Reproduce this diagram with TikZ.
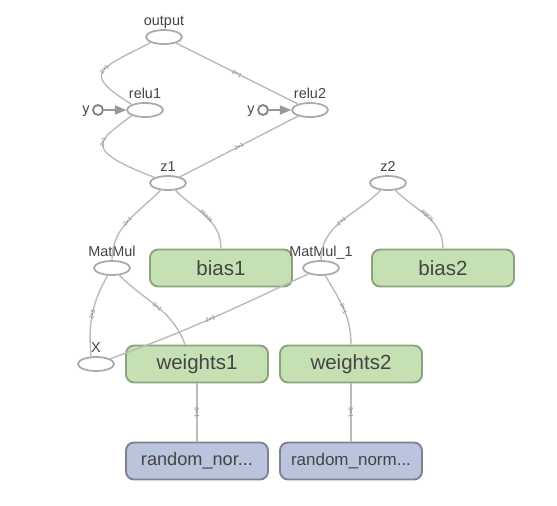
\documentclass[tikz,border=0pt]{standalone}
\usepackage{fontspec}
\setmainfont{Liberation Sans}
\usetikzlibrary{shapes.geometric, arrows}
\definecolor{opline}{HTML}{AAAAAA}
\definecolor{flowline}{HTML}{BBBBBB}
\definecolor{varfill}{HTML}{C5E0B3}
\definecolor{varline}{HTML}{8BA37C}
\definecolor{initfill}{HTML}{BAC4DD}
\definecolor{initline}{HTML}{7C8294}
\definecolor{txt}{HTML}{444444}
\tikzstyle{opnode} = [ellipse, minimum width=1.08cm, minimum height=0.42cm, inner sep=0pt, draw=opline, line width=1.5pt, fill=white, label distance=3pt]
\tikzstyle{opname} = [font=\fontsize{12.3}{12.3}\selectfont, text=txt, inner sep=1pt, text height=0.75em, text depth=0.22em]
\tikzstyle{varnode} = [rectangle, rounded corners=0.24cm, minimum width=4.26cm, minimum height=1.11cm, text centered, draw=varline, line width=1.6pt, fill=varfill, text=txt, font=\fontsize{17.5}{17.5}\selectfont]
\tikzstyle{initnode} = [varnode, draw=initline, fill=initfill, font=\fontsize{15.5}{15.5}\selectfont]
\tikzstyle{refdot} = [circle, minimum size=0.3cm, inner sep=0pt, draw=gray, line width=1.5pt, fill=white]
\tikzstyle{flow} = [draw=flowline, line width=1.2pt]
\tikzstyle{dims} = [font=\fontsize{5}{5}\selectfont, text=gray, sloped, inner sep=0.5pt, pos=0.5]
\tikzstyle{arrow} = [line width=1.2pt, draw=gray!80, -triangle 45]

\begin{document}
\begin{tikzpicture}[node distance=2cm]
        \useasboundingbox (0,0) rectangle (16.71,-15.15);

        \node (output) [opnode, label={[opname]above:output}] at (4.92,-1.11) {};
        \node (relu1) [opnode, below of=output, xshift=-0.57cm, yshift=-0.19cm, label={[opname]above:relu1}] {};
        \node (relu2) [opnode, right of=relu1, xshift=2.95cm, label={[opname]above:relu2}] {};
        \node (y1) [refdot, left of=relu1, xshift=0.59cm, label={[opname, label distance=1pt]left:y}] {};
        \node (y2) [refdot, left of=relu2, xshift=0.59cm, label={[opname, label distance=1pt]left:y}] {};
        \node (z1) [opnode, below of=relu1, xshift=0.69cm, yshift=-0.19cm, label={[opname]above:z1}] {};
        \node (z2) [opnode, right of=z1, xshift=4.6cm, label={[opname]above:z2}] {};
        \node (MatMul) [opnode, below of=z1, xshift=-1.68cm, yshift=-0.55cm, label={[opname]above:MatMul}] {};
        \node (bias1) [varnode, right of=MatMul, xshift=1.27cm] {bias1};
        \node (MatMul1) [opnode, below of=z2, xshift=-2.01cm, yshift=-0.55cm, label={[opname]above:MatMul\_1}] {};
        \node (bias2) [varnode, right of=MatMul1, xshift=1.66cm] {bias2};
        \node (X) [opnode, below of=MatMul, xshift=-0.48cm, yshift=-0.88cm, label={[opname]above:X}] {};
        \node (weights1) [varnode, right of=X, xshift=1.03cm] {weights1};
        \node (weights2) [varnode, right of=weights1, xshift=2.62cm] {weights2};
        \node (randnorm1) [initnode, below of=weights1, yshift=-0.91cm] {random\_nor...};
        \node (randnorm2) [initnode, below of=weights2, yshift=-0.91cm, font=\fontsize{14.5}{14.5}\selectfont] {random\_norm...};

        \draw [flow] (output.south west) .. controls +(-1.56,-0.81) and +(-1.53,0.96) .. node[dims, pos=0.45] {2×1} (relu1.north west);
        \draw [flow] (output) -- node[dims] {2×1} (relu2);
        \draw [flow] (relu1.south west) .. controls +(-0.96,-0.75) and +(-2.28,0.87) .. node[dims, pos=0.45] {2×1} (z1.north west);
        \draw [flow] (relu2) -- node[dims] {2×1} (z1);
        \draw [flow] (z1) to[out=225, in=90] node[dims] {2×1} (MatMul);
        \draw [flow] (bias1) to[out=90, in=-45] node[dims, allow upside down] {scalar} (z1);
        \draw [flow] (z2) to[out=225, in=90] node[dims] {2×1} (MatMul1);
        \draw [flow] (bias2) to[out=90, in=-45] node[dims, allow upside down] {scalar} (z2);
        \draw [flow] (MatMul) to[out=240, in=95] node[dims] {2×3} ([xshift=-0.15cm]X.north);
        \draw [flow] (MatMul) to[out=-45, in=110] node[dims] {3×1} ([xshift=-0.36cm]weights1.north);
        \draw [flow] (MatMul1) to[out=205, in=20] node[dims] {2×3} (X);
        \draw [flow] (MatMul1) to[out=-60, in=90] node[dims] {3×1} (weights2);
        \draw [flow] (weights1) -- node[dims] {3×1} (randnorm1);
        \draw [flow] (weights2) -- node[dims] {3×1} (randnorm2);
        \draw [arrow] (y1) -- (relu1);
        \draw [arrow] (y2) -- (relu2);

\end{tikzpicture}
\end{document}
